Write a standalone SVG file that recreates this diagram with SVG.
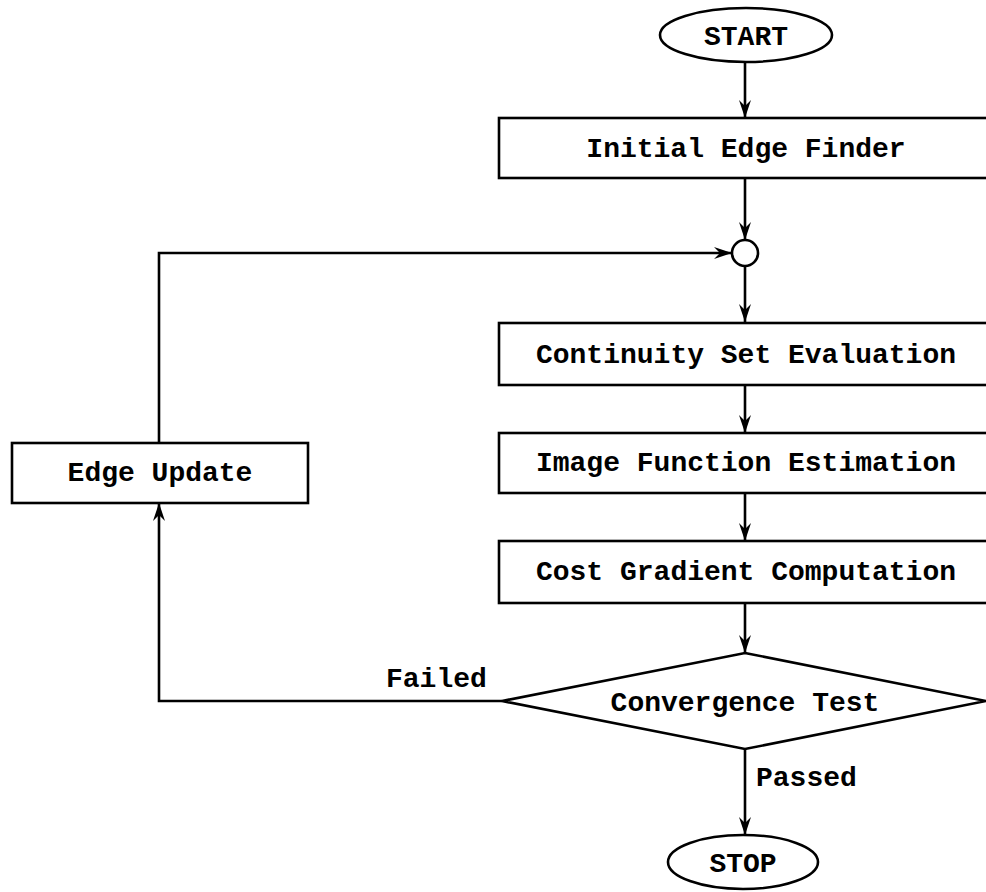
<svg xmlns="http://www.w3.org/2000/svg" width="986" height="892" viewBox="0 0 986 892">
<defs>
<style>
.shape{fill:#fff;stroke:#000;stroke-width:2.6}
.line{fill:none;stroke:#000;stroke-width:2.6}
.t{font-family:"Liberation Mono","DejaVu Sans Mono",monospace;font-weight:bold;font-size:28px;fill:#000;text-anchor:middle}
.lbl{font-family:"Liberation Mono","DejaVu Sans Mono",monospace;font-weight:bold;font-size:28px;fill:#000}
</style>
<marker id="arr" viewBox="0 0 18 12" refX="18" refY="6" markerWidth="18" markerHeight="12" markerUnits="userSpaceOnUse" orient="auto">
<path d="M0,0 L18,6 L0,12 L6,6 z" fill="#000"/>
</marker>
</defs>
<rect width="986" height="892" fill="#fff"/>
<g id="connectors">
<line class="line" x1="745" y1="62" x2="745" y2="118" marker-end="url(#arr)"/>
<line class="line" x1="745" y1="178" x2="745" y2="240" marker-end="url(#arr)"/>
<line class="line" x1="745" y1="266" x2="745" y2="322" marker-end="url(#arr)"/>
<line class="line" x1="745" y1="385" x2="745" y2="433" marker-end="url(#arr)"/>
<line class="line" x1="745" y1="493" x2="745" y2="541" marker-end="url(#arr)"/>
<line class="line" x1="745" y1="603" x2="745" y2="653" marker-end="url(#arr)"/>
<line class="line" x1="745" y1="749" x2="745" y2="835" marker-end="url(#arr)"/>
<polyline class="line" points="502,701 159,701 159,503" marker-end="url(#arr)"/>
<polyline class="line" points="159,443 159,253 732,253" marker-end="url(#arr)"/>
</g>
<g id="start">
<ellipse class="shape" cx="746" cy="35" rx="86" ry="27"/>
<text class="t" x="746" y="45">START</text>
</g>
<g id="initial-edge-finder">
<rect class="shape" x="499" y="118" width="500" height="60"/>
<text class="t" x="746" y="157">Initial Edge Finder</text>
</g>
<g id="junction">
<circle class="shape" cx="745" cy="253" r="13"/>
</g>
<g id="continuity-set-evaluation">
<rect class="shape" x="499" y="323" width="500" height="62"/>
<text class="t" x="746" y="363">Continuity Set Evaluation</text>
</g>
<g id="image-function-estimation">
<rect class="shape" x="499" y="433" width="500" height="60"/>
<text class="t" x="746" y="471">Image Function Estimation</text>
</g>
<g id="cost-gradient-computation">
<rect class="shape" x="499" y="541" width="500" height="62"/>
<text class="t" x="746" y="580">Cost Gradient Computation</text>
</g>
<g id="convergence-test">
<polygon class="shape" points="745,653 986,701 745,749 502,701"/>
<text class="t" x="745" y="711">Convergence Test</text>
</g>
<g id="edge-update">
<rect class="shape" x="12" y="443" width="296" height="60"/>
<text class="t" x="160" y="481">Edge Update</text>
</g>
<g id="stop">
<ellipse class="shape" cx="743" cy="862" rx="75" ry="27"/>
<text class="t" x="743" y="872">STOP</text>
</g>
<g id="labels">
<text class="lbl" x="386" y="687">Failed</text>
<text class="lbl" x="756" y="786">Passed</text>
</g>
</svg>
